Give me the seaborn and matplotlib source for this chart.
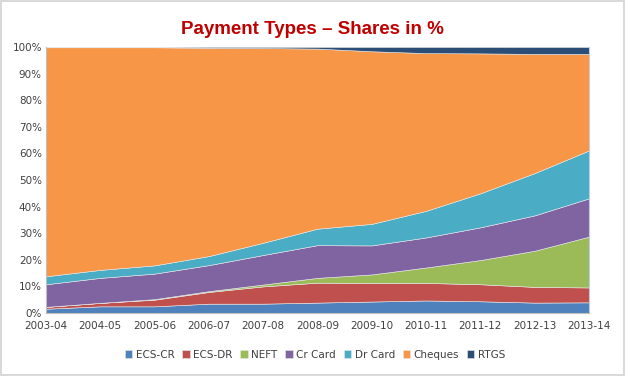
import numpy as np
import matplotlib
matplotlib.use("Agg")
import matplotlib.pyplot as plt
import seaborn as sns

years = ["2003-04", "2004-05", "2005-06", "2006-07", "2007-08", "2008-09",
         "2009-10", "2010-11", "2011-12", "2012-13", "2013-14"]
series_names = ["ECS-CR", "ECS-DR", "NEFT", "Cr Card", "Dr Card", "Cheques", "RTGS"]

ecs_cr = [1.6, 2.5, 2.5, 3.5, 3.5, 3.9, 4.3, 4.7, 4.4, 3.9, 4.0]
ecs_dr = [0.7, 1.3, 2.5, 4.4, 6.5, 7.5, 7.0, 6.6, 6.4, 5.9, 5.6]
neft = [0.0, 0.0, 0.2, 0.3, 0.7, 1.8, 3.2, 5.8, 9.1, 13.6, 19.1]
cr_card = [8.5, 9.4, 9.6, 9.8, 11.1, 12.3, 10.9, 11.3, 12.3, 13.3, 14.4]
dr_card = [3.0, 3.0, 3.1, 3.4, 4.6, 6.2, 8.1, 10.0, 12.8, 15.9, 18.0]
cheques = [86.1, 83.7, 82.0, 78.3, 73.2, 67.7, 64.9, 59.3, 52.6, 44.8, 36.3]
rtgs = [0.1, 0.1, 0.1, 0.3, 0.4, 0.6, 1.6, 2.3, 2.4, 2.6, 2.6]

colors = ["#4F81BD", "#C0504D", "#9BBB59", "#8064A2", "#4BACC6", "#F79646", "#2C4D75"]

sns.set_theme(style="white")
plt.rcParams['font.family'] = ['DejaVu Sans']

fig = plt.figure(figsize=(6.25, 3.76), dpi=100)
fig.patch.set_edgecolor('#d9d9d9')
fig.patch.set_linewidth(1.5)
ax = fig.add_axes([0.0736, 0.1676, 0.8688, 0.7074])

data = np.array([ecs_cr, ecs_dr, neft, cr_card, dr_card, cheques, rtgs])
shares = data / data.sum(axis=0) * 100
x = np.arange(len(years))
ax.stackplot(x, shares, labels=series_names, colors=colors, linewidth=0.4,
             edgecolor='#e8e8e8')

ax.set_xlim(0, len(years) - 1)
ax.set_ylim(0, 100)
ax.set_xticks(x)
ax.set_xticklabels(years, fontsize=7.5, color='#404040')
ax.set_yticks(range(0, 101, 10))
ax.set_yticklabels([f"{v}%" for v in range(0, 101, 10)], fontsize=7.5, color='#404040')
ax.tick_params(axis='x', direction='out', length=4, color='#bfbfbf', pad=2)
ax.tick_params(axis='y', length=0, pad=3)
for side in ['left', 'bottom']:
    ax.spines[side].set_color('#bfbfbf')
    ax.spines[side].set_linewidth(0.8)
ax.spines['top'].set_visible(False)
ax.spines['right'].set_color('#bfcde0')
ax.spines['right'].set_linewidth(0.8)

fig.suptitle("Payment Types – Shares in %", y=0.945, fontsize=13.5,
             fontweight='bold', color='#C00000', family=['Liberation Sans', 'DejaVu Sans'])

handles, labels = ax.get_legend_handles_labels()
fig.legend(handles, labels, loc='center', bbox_to_anchor=(0.504, 0.057), ncol=7,
           frameon=False, fontsize=7.5, handlelength=0.7, handleheight=0.7,
           handletextpad=0.35, columnspacing=0.75, labelcolor='#404040')

fig.savefig("out.png", dpi=100, edgecolor=fig.get_edgecolor())
